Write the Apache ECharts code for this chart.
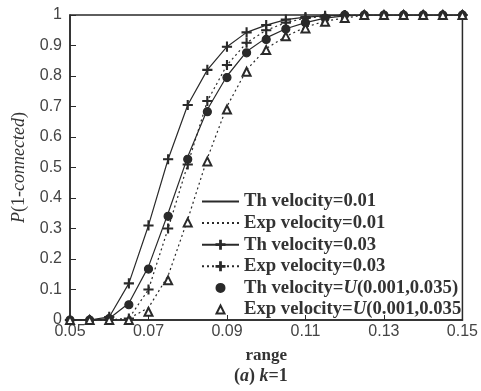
<!DOCTYPE html>
<html>
<head>
<meta charset="utf-8">
<script src="https://cdn.jsdelivr.net/npm/echarts@6/dist/echarts.min.js"></script>
<style>
  html, body { margin: 0; padding: 0; background: #fff; }
  #chart { width: 481px; height: 391px; }
</style>
</head>
<body>
<div id="chart"></div>
<script>
// range values (x)
const ranges = [0.05, 0.055, 0.06, 0.065, 0.07, 0.075, 0.08, 0.085, 0.09, 0.095, 0.1,
  0.105, 0.11, 0.115, 0.12, 0.125, 0.13, 0.135, 0.14, 0.145, 0.15];

const thV001 = [0, 0, 0.005, 0.055, 0.175, 0.35, 0.535, 0.69, 0.8, 0.88, 0.925,
  0.955, 0.975, 0.99, 0.997, 1, 1, 1, 1, 1, 1];
const expV001 = [0, 0, 0, 0.005, 0.04, 0.145, 0.33, 0.53, 0.7, 0.82, 0.89,
  0.93, 0.96, 0.98, 0.99, 1, 1, 1, 1, 1, 1];
const thV003 = [0, 0, 0.01, 0.12, 0.31, 0.527, 0.705, 0.82, 0.896, 0.943, 0.967,
  0.985, 0.993, 0.997, 1, 1, 1, 1, 1, 1, 1];
const expV003 = [0, 0, 0, 0.005, 0.1, 0.3, 0.51, 0.718, 0.836, 0.909, 0.95,
  0.975, 0.99, 0.995, 1, 1, 1, 1, 1, 1, 1];
const thVU = [0, 0, 0.005, 0.05, 0.167, 0.34, 0.527, 0.683, 0.795, 0.876, 0.92,
  0.954, 0.975, 0.99, 1, 1, 1, 1, 1, 1, 1];
const expVU = [0, 0, 0, 0, 0.027, 0.13, 0.32, 0.52, 0.69, 0.814, 0.885,
  0.93, 0.956, 0.978, 0.99, 1, 1, 1, 1, 1, 1];

const xTicks = [0.05, 0.07, 0.09, 0.11, 0.13, 0.15];

const names = ['Th velocity=0.01', 'Exp velocity=0.01', 'Th velocity=0.03',
  'Exp velocity=0.03', 'Th velocity=U(0.001,0.035)', 'Exp velocity=U(0.001,0.035'];

const ink = '#2a2a2a';
const plus = 'path://M4.5,0H5.5V4.5H10V5.5H5.5V10H4.5V5.5H0V4.5H4.5Z';
const pairs = ys => ranges.map((x, i) => [x, ys[i]]);

const chart = echarts.init(document.getElementById('chart'));

// lineShown: draw the connecting line; symbol: marker shape or null
function makeSeries(name, ys, dashed, symbol, size, lineShown) {
  return {
    name: name,
    type: 'line',
    data: pairs(ys),
    symbol: symbol || 'circle',
    symbolSize: size || 9,
    showSymbol: !!symbol,
    itemStyle: { color: ink, borderColor: ink, borderWidth: 1.2 },
    lineStyle: lineShown === false
      ? { width: 0, opacity: 0 }
      : { color: ink, width: 1.2, type: dashed ? [2, 3] : 'solid' },
    animation: false
  };
}

const fontSerif = 'Liberation Serif';
const txt = { fontFamily: fontSerif, fontSize: 18, fontWeight: 'bold', color: '#333' };
const legTxt = Object.assign({}, txt, { fontSize: 18.7 });

const option = {
  backgroundColor: '#fff',
  grid: { left: 70, right: 14, top: 15, bottom: 71, show: true, borderColor: ink, borderWidth: 1.5 },
  legend: {
    left: 201, top: 192, orient: 'vertical', padding: 0,
    itemWidth: 37, itemHeight: 10, itemGap: 2.6,
    data: [
      { name: names[0], itemStyle: { opacity: 0 } },
      { name: names[1], itemStyle: { opacity: 0 } },
      { name: names[2] },
      { name: names[3] },
      { name: names[4], lineStyle: { opacity: 0, width: 0 } },
      { name: names[5], lineStyle: { opacity: 0, width: 0 } }
    ],
    formatter: n => n.replace('=U(', '={i|U}('),
    textStyle: Object.assign({}, legTxt, {
      rich: { i: Object.assign({}, legTxt, { fontStyle: 'italic' }) }
    })
  },
  title: {
    text: '({a|a}) {a|k}=1',
    left: 234, top: 367, padding: 0,
    textStyle: Object.assign({}, txt, {
      rich: { a: Object.assign({}, txt, { fontStyle: 'italic' }) }
    })
  },
  xAxis: {
    type: 'value', min: 0.05, max: 0.15, interval: 0.02,
    name: 'range', nameLocation: 'middle', nameGap: 27,
    nameTextStyle: Object.assign({}, txt, { fontSize: 17 }),
    axisLine: { lineStyle: { color: ink, width: 1.5 } },
    axisTick: { inside: true, length: 5, lineStyle: { color: ink } },
    axisLabel: {
      fontFamily: 'Liberation Sans', fontSize: 16, color: '#444', margin: 4,
      formatter: v => { const t = xTicks.find(k => Math.abs(k - v) < 1e-6); return t === undefined ? '' : String(t); }
    },
    splitLine: { show: false }
  },
  yAxis: {
    type: 'value', min: 0, max: 1, interval: 0.1,
    name: '{i|P}(1-{i|connected})', nameLocation: 'middle', nameGap: 42,
    nameTextStyle: {
      fontFamily: fontSerif, fontSize: 18, color: '#333',
      rich: { i: { fontFamily: fontSerif, fontSize: 18, fontStyle: 'italic', color: '#333' } }
    },
    axisLine: { lineStyle: { color: ink, width: 1.5 } },
    axisTick: { inside: true, length: 6, lineStyle: { color: ink } },
    axisLabel: { fontFamily: 'Liberation Sans', fontSize: 16, color: '#444', margin: 8,
      formatter: v => String(Math.round(v * 10) / 10) },
    splitLine: { show: false }
  },
  series: [
    makeSeries(names[0], thV001, false, null),
    makeSeries(names[1], expV001, true, null),
    makeSeries(names[2], thV003, false, plus, 9),
    makeSeries(names[3], expV003, true, plus, 9),
    makeSeries(names[4], thVU, false, 'circle', 8, false),
    makeSeries(names[5], expVU, false, 'emptyTriangle', 8, false)
  ]
};

chart.setOption(option);
</script>
</body>
</html>
